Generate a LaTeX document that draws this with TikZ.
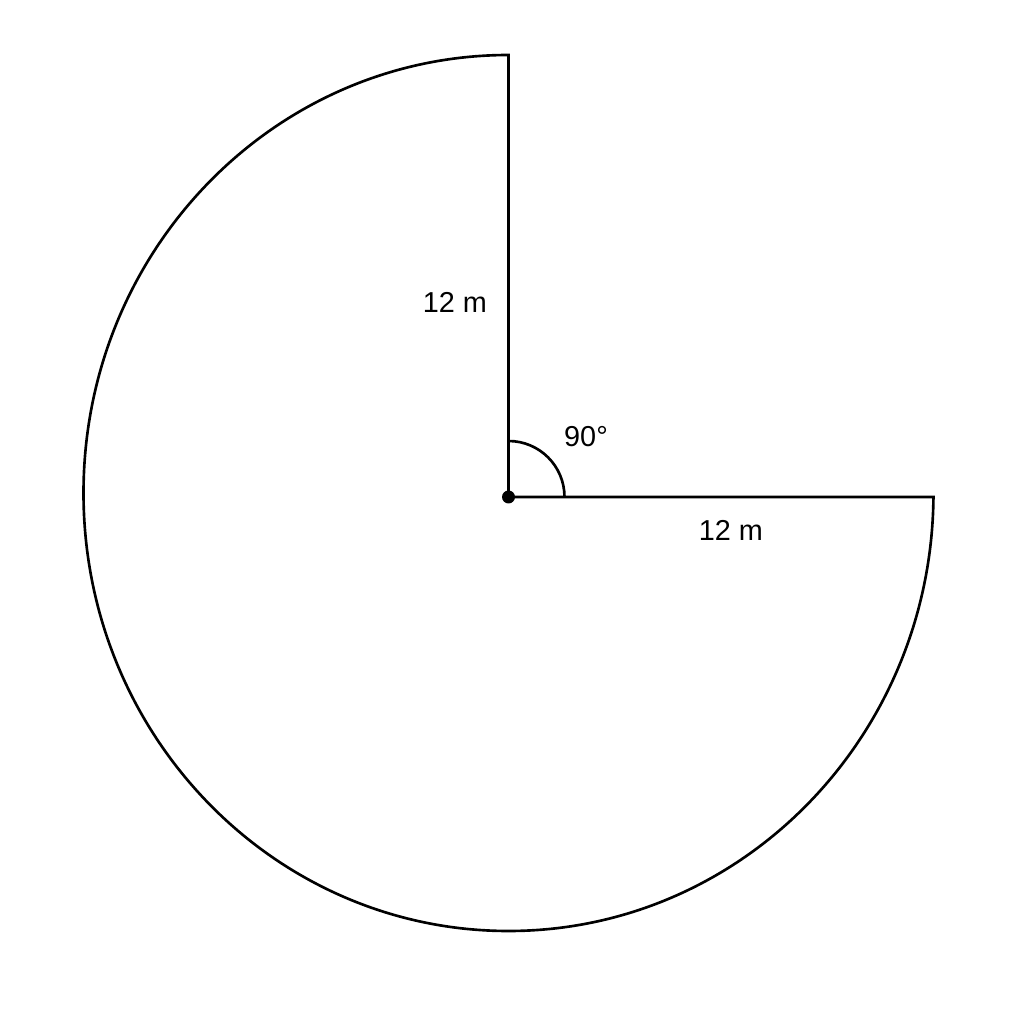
\documentclass[tikz,border=0pt]{standalone}
\usepackage{fontspec}
\setmainfont{Liberation Sans}
\begin{document}
\begin{tikzpicture}[
  outline/.style={draw=black, line width=0.75pt, line join=miter},
  lbl/.style={font=\fontsize{8.2}{10}\selectfont, inner sep=0pt}
]
\useasboundingbox (0,0) rectangle (10.24,10.24);
\coordinate (C) at (5.085,5.27);
\coordinate (T) at (5.085,9.69);
\coordinate (A) at (5.085,5.83);
\draw[outline] (C) -- (T) arc[start angle=90, end angle=359.477, x radius=4.25, y radius=4.38] coordinate (R) -- cycle;
\draw[outline] (A) arc[start angle=90, end angle=0, radius=0.56];
\fill (C) circle (0.065);
\node[lbl] (l1) at (4.55,7.22) {12 m};
\node[lbl] (ang) at (5.86,5.87) {90°};
\node[lbl] (l2) at (7.31,4.94) {12 m};
\end{tikzpicture}
\end{document}
